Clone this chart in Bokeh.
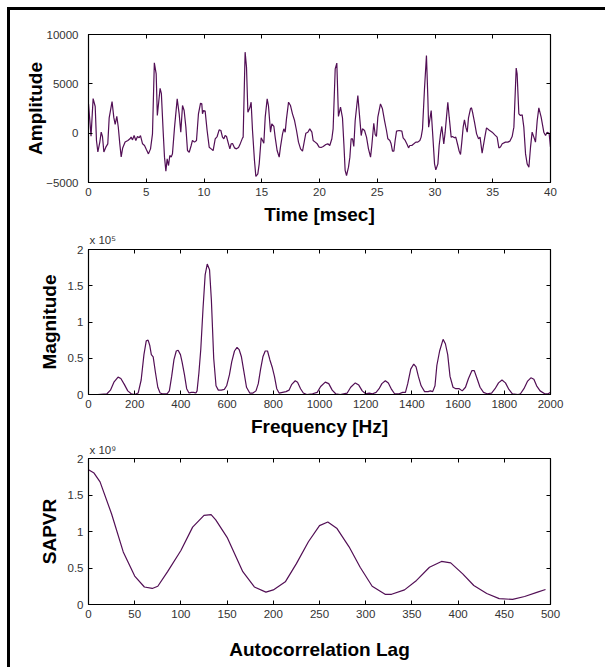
from bokeh.plotting import figure
from bokeh.models import Range1d, LinearAxis, FixedTicker, Title, CustomJSTickFormatter
from bokeh.layouts import column
from bokeh.embed import file_html
from bokeh.resources import INLINE

# ---------------- data ----------------
time_ms = [0.00, 0.22, 0.40, 0.58, 0.69, 0.81, 0.98, 1.10, 1.21, 1.33, 1.50, 1.67, 1.79, 2.04, 2.19,
           2.31, 2.45, 2.58, 2.71, 2.83, 2.96, 3.17, 3.41, 3.59, 3.69, 3.81, 3.95, 4.10, 4.24, 4.39,
           4.50, 4.68, 4.85, 5.02, 5.19, 5.37, 5.54, 5.70, 5.86, 5.96, 6.20, 6.31, 6.46, 6.58, 6.70,
           6.81, 6.93, 7.04, 7.16, 7.27, 7.45, 7.68, 7.85, 7.99, 8.14, 8.28, 8.43, 8.57, 8.72, 8.89,
           9.00, 9.18, 9.35, 9.52, 9.70, 9.81, 9.87, 9.96, 10.10, 10.27, 10.45, 10.62, 10.79, 10.97,
           11.14, 11.31, 11.46, 11.60, 11.72, 11.83, 11.95, 12.12, 12.24, 12.35, 12.47, 12.64, 12.81,
           12.99, 13.16, 13.33, 13.39, 13.56, 13.68, 13.80, 13.97, 14.08, 14.20, 14.37, 14.49, 14.66,
           14.78, 14.95, 15.07, 15.18, 15.30, 15.47, 15.58, 15.76, 15.87, 16.05, 16.16, 16.33, 16.51,
           16.62, 16.80, 16.91, 17.03, 17.14, 17.32, 17.49, 17.66, 17.84, 18.01, 18.18, 18.36, 18.53,
           18.70, 18.82, 18.99, 19.16, 19.34, 19.45, 19.63, 19.80, 19.97, 20.14, 20.32, 20.55, 20.72,
           20.89, 21.07, 21.18, 21.36, 21.50, 21.64, 21.82, 21.99, 22.11, 22.22, 22.34, 22.51, 22.63,
           22.74, 22.86, 22.97, 23.09, 23.32, 23.49, 23.61, 23.72, 23.90, 24.07, 24.24, 24.42, 24.53,
           24.70, 24.82, 24.93, 25.05, 25.28, 25.45, 25.63, 25.80, 25.92, 26.09, 26.20, 26.32, 26.44,
           26.55, 26.67, 26.90, 27.13, 27.24, 27.42, 27.59, 27.71, 27.82, 27.99, 28.17, 28.34, 28.51,
           28.69, 28.80, 28.92, 29.09, 29.26, 29.38, 29.45, 29.67, 29.78, 29.96, 30.07, 30.25, 30.36,
           30.48, 30.59, 30.76, 30.88, 30.99, 31.11, 31.23, 31.40, 31.51, 31.69, 31.80, 31.98, 32.09,
           32.21, 32.32, 32.44, 32.55, 32.67, 32.79, 32.90, 33.07, 33.16, 33.25, 33.42, 33.60, 33.77,
           33.90, 34.08, 34.30, 34.46, 34.70, 34.95, 35.20, 35.38, 35.53, 35.67, 35.82, 36.10, 36.31,
           36.48, 36.68, 36.83, 37.03, 37.11, 37.26, 37.40, 37.55, 37.69, 37.84, 37.98, 38.13, 38.27,
           38.41, 38.56, 38.70, 38.85, 38.99, 39.19, 39.42, 39.57, 39.71, 39.88, 40.00]
amplitude = [2970, -300, 3500, 2700, -740, -1900, -900, 100, -340, -1900, -1420, -1080, 1550, 3200, 1600,
             880, 1700, 600, -1080, -2400, -1500, -900, -740, -570, -400, -680, -240, -740, -340, -470,
             -240, -1080, -1250, -1690, -2100, -1590, -70, 7130, 6000, 1790, 4550, 4000, 270, -2430, -3850,
             -2600, -3280, -2260, -2430, -2090, 610, 3480, 1960, 100, 2800, 2300, 610, -1760, -1930, -1250,
             -740, -910, -740, 1960, 3040, 2970, 1960, 2300, 2230, 270, -1420, -1590, -1760, -570,
             -340, 340, 270, -400, -570, -240, -340, -1080, -1590, -1080, -1050, -1490, -1590,
             -1450, -1010, -500, -400, 8210, 6690, 2130, 2570, 3140, 270, -2770, -4390, -4120,
             -3110, -470, -740, -1010, 1620, 3480, 2800, 100, 950, 680, -400, -1760, -2430,
             -1420, -70, 440, 100, 1450, 3140, 2800, 1960, 1280, 270, -910, -1590, -1820,
             -740, 0, 100, 440, 100, -740, -910, -1080, -1420, -1450, -1350, -1150, -1080,
             -1250, -570, 440, 6520, 7100, 1690, 2640, 1550, -1080, -3780, -4290, -3450, -2430,
             -570, -570, -1350, 1280, 3820, 1450, -240, 440, 270, -400, -1590, -2430, -1250,
             1010, -140, -340, 1620, 2970, 2470, 1280, 270, -570, -740, -1080, -1820, -1820,
             -740, 200, 270, 200, -470, -740, -1150, -1490, -1250, -1250, -1080, -910, -910,
             -740, -400, 440, 4490, 7870, 3650, 600, 2300, 270, -3110, -3720, -3110, -1250,
             -70, 680, -1080, 100, 1550, 3140, 1620, -400, -340, -470, -400, -1250, -1820,
             -2160, -910, 610, 1350, 610, 100, 1550, 2470, 2570, 2130, 1110, -70, -570,
             -400, -2030, -500, 540, 300, 100, -200, -400, -1490, -1400, -1080, -910, -910,
             -810, -340, 610, 6600, 6010, 1960, 1790, 1850, 610, -2100, -3110, -3450, -1420,
             100, -400, -910, 1280, 2570, 1620, 100, -240, 100, 0, -1420]

freq_hz = [0, 40, 80, 95, 110, 128, 140, 155, 170, 185, 200, 215, 228, 240, 250, 258, 265, 272, 280,
           290, 300, 310, 320, 340, 350, 360, 370, 380, 388, 398, 405, 415, 425, 435, 445, 455, 465,
           470, 478, 486, 496, 505, 514, 524, 532, 542, 552, 562, 575, 588, 598, 610, 620, 632, 643,
           652, 662, 672, 684, 698, 712, 725, 735, 745, 755, 765, 775, 785, 795, 805, 815, 825, 840,
           855, 868, 880, 895, 905, 918, 930, 945, 970, 990, 1005, 1025, 1040, 1055, 1070, 1090, 1120,
           1135, 1155, 1170, 1185, 1200, 1215, 1230, 1245, 1258, 1270, 1285, 1298, 1312, 1325, 1345,
           1360, 1372, 1382, 1395, 1408, 1418, 1428, 1440, 1455, 1470, 1480, 1490, 1500, 1508, 1520,
           1535, 1545, 1555, 1565, 1578, 1590, 1605, 1618, 1632, 1645, 1660, 1670, 1682, 1695, 1710,
           1725, 1745, 1760, 1775, 1790, 1805, 1820, 1835, 1860, 1870, 1885, 1900, 1915, 1928, 1940,
           1955, 1975, 1990, 2000]
magnitude_e5 = [0.0, 0.0, 0.01, 0.06, 0.17, 0.24, 0.22, 0.14, 0.05, 0.01, 0.0, 0.02, 0.20, 0.55, 0.74,
                0.75, 0.68, 0.55, 0.52, 0.30, 0.10, 0.02, 0.01, 0.01, 0.05, 0.25, 0.48, 0.60, 0.61, 0.55,
                0.45, 0.28, 0.08, 0.02, 0.03, 0.03, 0.02, 0.05, 0.30, 0.62, 1.20, 1.65, 1.80, 1.72, 1.30,
                0.50, 0.12, 0.06, 0.06, 0.07, 0.12, 0.27, 0.45, 0.60, 0.65, 0.62, 0.52, 0.33, 0.10, 0.02,
                0.02, 0.05, 0.15, 0.35, 0.52, 0.60, 0.60, 0.48, 0.38, 0.25, 0.08, 0.02, 0.03, 0.04, 0.06,
                0.14, 0.19, 0.17, 0.08, 0.02, 0.0, 0.01, 0.03, 0.11, 0.17, 0.15, 0.06, 0.01, 0.0, 0.02,
                0.10, 0.16, 0.13, 0.05, 0.01, 0.02, 0.01, 0.03, 0.08, 0.15, 0.19, 0.16, 0.07, 0.01, 0.01,
                0.03, 0.03, 0.15, 0.35, 0.42, 0.38, 0.25, 0.12, 0.04, 0.04, 0.05, 0.04, 0.12, 0.40, 0.60,
                0.76, 0.70, 0.55, 0.25, 0.10, 0.08, 0.08, 0.05, 0.10, 0.22, 0.33, 0.33, 0.22, 0.10, 0.03,
                0.01, 0.02, 0.08, 0.16, 0.20, 0.16, 0.07, 0.01, 0.0, 0.01, 0.08, 0.18, 0.23, 0.21, 0.12,
                0.05, 0.01, 0.01, 0.03]

lag = [0, 6, 12.5, 25, 37.6, 50, 60.5, 69, 75, 85.6, 100, 112.7, 125, 132.7, 137.7, 150, 167, 179.5,
       192, 200, 213, 225, 238, 250, 259, 269, 282, 294, 307, 321, 328, 342, 355, 369, 382, 392, 405,
       417, 431, 444.5, 459, 472, 486, 494.6]
sapvr_e9 = [1.845, 1.80, 1.68, 1.24, 0.72, 0.39, 0.24, 0.22, 0.25, 0.45, 0.74, 1.06, 1.22, 1.23, 1.16,
            0.92, 0.45, 0.24, 0.17, 0.20, 0.31, 0.56, 0.86, 1.08, 1.13, 1.04, 0.79, 0.51, 0.25, 0.14,
            0.14, 0.20, 0.33, 0.51, 0.59, 0.57, 0.42, 0.26, 0.15, 0.08, 0.07, 0.11, 0.17, 0.205]

time_ticks = [0, 5, 10, 15, 20, 25, 30, 35, 40]
amp_ticks = [-5000, 0, 5000, 10000]
freq_ticks = [0, 200, 400, 600, 800, 1000, 1200, 1400, 1600, 1800, 2000]
lag_ticks = [0, 50, 100, 150, 200, 250, 300, 350, 400, 450, 500]
unit_ticks = [0, 0.5, 1, 1.5, 2]
unit_tick_labels = ["0", "0.5", "1", "1.5", "2"]
mag_exponent = "x 10\u2075"
sapvr_exponent = "x 10\u2079"

LINE = "#520f55"
TICKFONT = "Liberation Sans"


def make_fig(height, top, bottom, xr, yr, xt, yt, xlabel, ylabel, ylab_standoff, tick_standoff,
             xlab_standoff, ylabels=None):
    p = figure(width=595, height=height, x_range=Range1d(*xr), y_range=Range1d(*yr),
               output_backend="svg", toolbar_location=None,
               min_border_left=78, min_border_right=55, min_border_top=top, min_border_bottom=bottom,
               x_axis_label=xlabel, y_axis_label=ylabel)
    p.xgrid.visible = False
    p.ygrid.visible = False
    p.outline_line_color = "black"
    p.outline_line_width = 1.2
    p.background_fill_color = "white"
    p.border_fill_color = "white"
    for ax, ticks in ((p.xaxis[0], xt), (p.yaxis[0], yt)):
        ax.ticker = FixedTicker(ticks=ticks)
        ax.major_tick_in = 4
        ax.major_tick_out = 0
        ax.minor_tick_in = 0
        ax.minor_tick_out = 0
        ax.axis_line_color = "black"
        ax.major_tick_line_color = "black"
        ax.major_label_text_font = TICKFONT
        ax.major_label_text_font_size = "11.5px"
        ax.major_label_text_color = "#333333"
        ax.axis_label_text_font = "Liberation Sans"
        ax.axis_label_text_font_style = "bold"
        ax.axis_label_text_font_size = "19px"
        ax.axis_label_text_color = "black"
    p.xaxis[0].major_label_standoff = 5
    p.xaxis[0].axis_label_standoff = xlab_standoff
    p.yaxis[0].major_label_standoff = tick_standoff
    p.yaxis[0].axis_label_standoff = ylab_standoff
    if ylabels is not None:
        p.yaxis[0].major_label_overrides = {t: s for t, s in zip(yt, ylabels)}
    # mirrored inward ticks on top and right (boxed axes), no labels
    for loc, ticks in (("above", xt), ("right", yt)):
        ax = LinearAxis(ticker=FixedTicker(ticks=ticks),
                        formatter=CustomJSTickFormatter(code="return ''"))
        ax.major_tick_in = 4
        ax.major_tick_out = 0
        ax.minor_tick_in = 0
        ax.minor_tick_out = 0
        ax.major_label_standoff = 0
        ax.axis_line_color = "black"
        p.add_layout(ax, loc)
    return p


def add_exponent(p, text, standoff):
    t = Title(text=text, align="left", offset=1, standoff=standoff, text_font=TICKFONT,
              text_font_size="11.5px", text_font_style="normal", text_color="#333333")
    p.add_layout(t, "above")


p1 = make_fig(217, 24, 45, (0, 40), (-5000, 10000), time_ticks, amp_ticks,
              "Time [msec]", "Amplitude", -3, 10, 5)
p1.line(time_ms, amplitude, line_color=LINE, line_width=1.2)

p2 = make_fig(212, 22, 44, (0, 2000), (0, 2), freq_ticks, unit_ticks,
              "Frequency [Hz]", "Magnitude", 5, 5, 5, unit_tick_labels)
p2.line(freq_hz, magnitude_e5, line_color=LINE, line_width=1.2)
add_exponent(p2, mag_exponent, 8)

p3 = make_fig(228, 19, 63, (0, 500), (0, 2), lag_ticks, unit_ticks,
              "Autocorrelation Lag", "SAPVR", 5, 5, 18, unit_tick_labels)
p3.line(lag, sapvr_e9, line_color=LINE, line_width=1.2)
add_exponent(p3, sapvr_exponent, 5)

layout = column(p1, p2, p3, spacing=0, margin=(7, 0, 0, 7),
                styles={"border-top": "3px solid black", "border-left": "3px solid black"})

open("out.html", "w").write(file_html(layout, INLINE))
